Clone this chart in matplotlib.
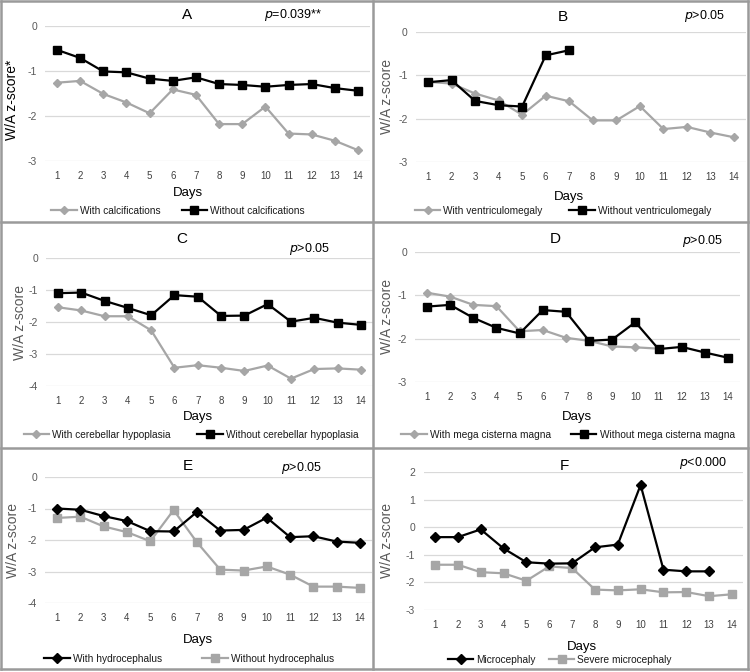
import matplotlib
matplotlib.use("Agg")
import matplotlib.pyplot as plt
from matplotlib.lines import Line2D
import numpy as np

plt.rcParams['font.family'] = ['Liberation Sans', 'DejaVu Sans']

days = list(range(1, 15))

# Panel A
a_with = [-1.26, -1.22, -1.51, -1.70, -1.94, -1.41, -1.53, -2.18, -2.18, -1.79, -2.39, -2.41, -2.55, -2.76]
a_without = [-0.53, -0.71, -1.01, -1.03, -1.17, -1.22, -1.14, -1.29, -1.31, -1.35, -1.31, -1.29, -1.38, -1.44]
# Panel B
b_with = [-1.15, -1.19, -1.42, -1.58, -1.91, -1.47, -1.60, -2.04, -2.04, -1.71, -2.24, -2.19, -2.32, -2.43]
b_without = [-1.16, -1.11, -1.59, -1.69, -1.72, -0.54, -0.42]
# Panel C
c_with = [-1.54, -1.64, -1.82, -1.82, -2.26, -3.43, -3.35, -3.43, -3.53, -3.36, -3.77, -3.47, -3.45, -3.49]
c_without = [-1.10, -1.08, -1.34, -1.56, -1.79, -1.16, -1.21, -1.81, -1.80, -1.44, -1.99, -1.87, -2.02, -2.09]
# Panel D
d_with = [-0.94, -1.03, -1.22, -1.25, -1.83, -1.80, -1.98, -2.05, -2.18, -2.20, -2.23]
d_without = [-1.26, -1.22, -1.52, -1.75, -1.88, -1.34, -1.38, -2.05, -2.02, -1.62, -2.24, -2.19, -2.32, -2.44]
# Panel E
e_with = [-1.00, -1.04, -1.24, -1.40, -1.72, -1.73, -1.11, -1.70, -1.68, -1.29, -1.91, -1.88, -2.05, -2.09]
e_without = [-1.30, -1.26, -1.57, -1.75, -2.04, -1.05, -2.07, -2.94, -2.97, -2.84, -3.10, -3.48, -3.48, -3.52]
# Panel F
f_micro = [-0.36, -0.36, -0.08, -0.77, -1.27, -1.32, -1.31, -0.73, -0.63, 1.53, -1.54, -1.60, -1.60]
f_severe = [-1.36, -1.36, -1.63, -1.67, -1.94, -1.42, -1.48, -2.26, -2.29, -2.25, -2.36, -2.35, -2.50, -2.43]

W, H = 750, 672
fig = plt.figure(figsize=(W / 100, H / 100), dpi=100)

GRAY = '#a6a6a6'
BLACK = '#000000'
TXT = '#595959'


def px_axes(x0, x1, ytop, ybot):
    return fig.add_axes([x0 / W, 1 - ybot / H, (x1 - x0) / W, (ybot - ytop) / H])


def ftext(x, y, s, **kw):
    fig.text(x / W, 1 - y / H, s, **kw)


panels = [
    dict(letter='A', box=(45.4, 369.6, 26, 161), ylim=(-3, 0), yt=[0, -1, -2, -3],
         s1=(a_with, 'With calcifications', GRAY, 'D', 4.5), s2=(a_without, 'Without calcifications', BLACK, 's', 6),
         ptxt='=0.039**', ppos=(293, 15), lpos=(187, 15), dpos=(188, 193), legy=211, legx=178, cs=2.1,
         ylab='W/A z-score*', ylabc=BLACK, ylabpos=(12, 100)),
    dict(letter='B', box=(416.2, 745.8, 32, 162), ylim=(-3, 0), yt=[0, -1, -2, -3],
         s1=(b_with, 'With ventriculomegaly', GRAY, 'D', 4.5), s2=(b_without, 'Without ventriculomegaly', BLACK, 's', 6),
         ptxt='>0.05', ppos=(705, 16), lpos=(563, 17), dpos=(569, 197), legy=211, legx=563, cs=2.6,
         ylab='W/A z-score', ylabc=TXT, ylabpos=(387, 97)),
    dict(letter='C', box=(46.3, 372.5, 258, 386), ylim=(-4, 0), yt=[0, -1, -2, -3, -4],
         s1=(c_with, 'With cerebellar hypoplasia', GRAY, 'D', 4.5), s2=(c_without, 'Without cerebellar hypoplasia', BLACK, 's', 6),
         ptxt='>0.05', ppos=(310, 249), lpos=(182, 239), dpos=(198, 417), legy=435, legx=191, cs=2.6,
         ylab='W/A z-score', ylabc=TXT, ylabpos=(20, 322)),
    dict(letter='D', box=(415.4, 739.6, 252, 382), ylim=(-3, 0), yt=[0, -1, -2, -3],
         s1=(d_with, 'With mega cisterna magna', GRAY, 'D', 4.5), s2=(d_without, 'Without mega cisterna magna', BLACK, 's', 6),
         ptxt='>0.05', ppos=(703, 241), lpos=(555, 239), dpos=(577, 417), legy=435, legx=568, cs=2.0,
         ylab='W/A z-score', ylabc=TXT, ylabpos=(387, 317)),
    dict(letter='E', box=(45.4, 371.7, 477, 603), ylim=(-4, 0), yt=[0, -1, -2, -3, -4],
         s1=(e_with, 'With hydrocephalus', BLACK, 'D', 5), s2=(e_without, 'Without hydrocephalus', GRAY, 's', 6),
         ptxt='>0.05', ppos=(302, 468), lpos=(188, 466), dpos=(198, 640), legy=659, legx=189, cs=4.0,
         ylab='W/A z-score', ylabc=TXT, ylabpos=(13, 540)),
    dict(letter='F', box=(423.6, 743.4, 472, 610), ylim=(-3, 2), yt=[2, 1, 0, -1, -2, -3],
         s1=(f_micro, 'Microcephaly', BLACK, 'D', 5), s2=(f_severe, 'Severe microcephaly', GRAY, 's', 6),
         ptxt='<0.000', ppos=(703, 463), lpos=(564, 466), dpos=(582, 647), legy=660, legx=560, cs=1.3,
         ylab='W/A z-score', ylabc=TXT, ylabpos=(387, 540)),
]

for p in panels:
    x0, x1, yt_, yb_ = p['box']
    ax = px_axes(x0, x1, yt_, yb_)
    ax.set_xlim(0.5, 14.5)
    ax.set_ylim(*p['ylim'])
    ax.set_yticks(p['yt'])
    ax.set_yticklabels([str(v) for v in p['yt']])
    ax.set_xticks(days)
    ax.set_xticklabels([str(d) for d in days])
    for s in ax.spines.values():
        s.set_visible(False)
    ax.tick_params(axis='both', length=0)
    ax.tick_params(axis='x', pad=7, labelsize=7, labelcolor='#404040')
    ax.tick_params(axis='y', pad=6, labelsize=7.5, labelcolor=TXT)
    ax.yaxis.grid(True, color='#d9d9d9', linewidth=0.9)
    ax.set_axisbelow(True)
    ax.patch.set_alpha(0)
    handles = []
    for vals, lab, col, mk, ms in (p['s1'], p['s2']):
        xs = days[:len(vals)]
        h, = ax.plot(xs, vals, color=col, marker=mk, markersize=ms, linewidth=1.6,
                     markerfacecolor=col, markeredgecolor=col, label=lab, clip_on=False)
        handles.append(h)
    for h in handles:
        h.set_zorder(3 if h.get_color() == BLACK else 2)
    ftext(p['lpos'][0], p['lpos'][1], p['letter'], fontsize=11, ha='center', va='center', color=BLACK)
    ftext(p['ppos'][0], p['ppos'][1], r'$\it{p}$' + p['ptxt'], fontsize=9, ha='center', va='center', color=BLACK)
    ftext(p['dpos'][0], p['dpos'][1], 'Days', fontsize=9.5, ha='center', va='center', color=BLACK)
    ftext(p['ylabpos'][0], p['ylabpos'][1], p['ylab'], fontsize=10, ha='center', va='center',
          rotation=90, color=p['ylabc'])
    leg = fig.legend(handles=handles, loc='center', bbox_to_anchor=(p['legx'] / W, 1 - p['legy'] / H),
                     ncol=2, frameon=False, fontsize=7.3, handlelength=2.5, handletextpad=0.3,
                     columnspacing=p['cs'], borderaxespad=0, borderpad=0)
    for t in leg.get_texts():
        t.set_color('#1a1a1a')

# panel borders
bc = '#9a9a9a'
lw = 1.8
for (xa, ya, xb, yb) in [(1, 1, 748, 1), (1, 669, 748, 669), (1, 1, 1, 669), (748, 1, 748, 669),
                         (373, 1, 373, 669), (1, 222, 748, 222), (1, 448, 748, 448)]:
    fig.add_artist(Line2D([xa / W, xb / W], [1 - ya / H, 1 - yb / H], color=bc, linewidth=lw))

fig.savefig('out.png', dpi=100)
